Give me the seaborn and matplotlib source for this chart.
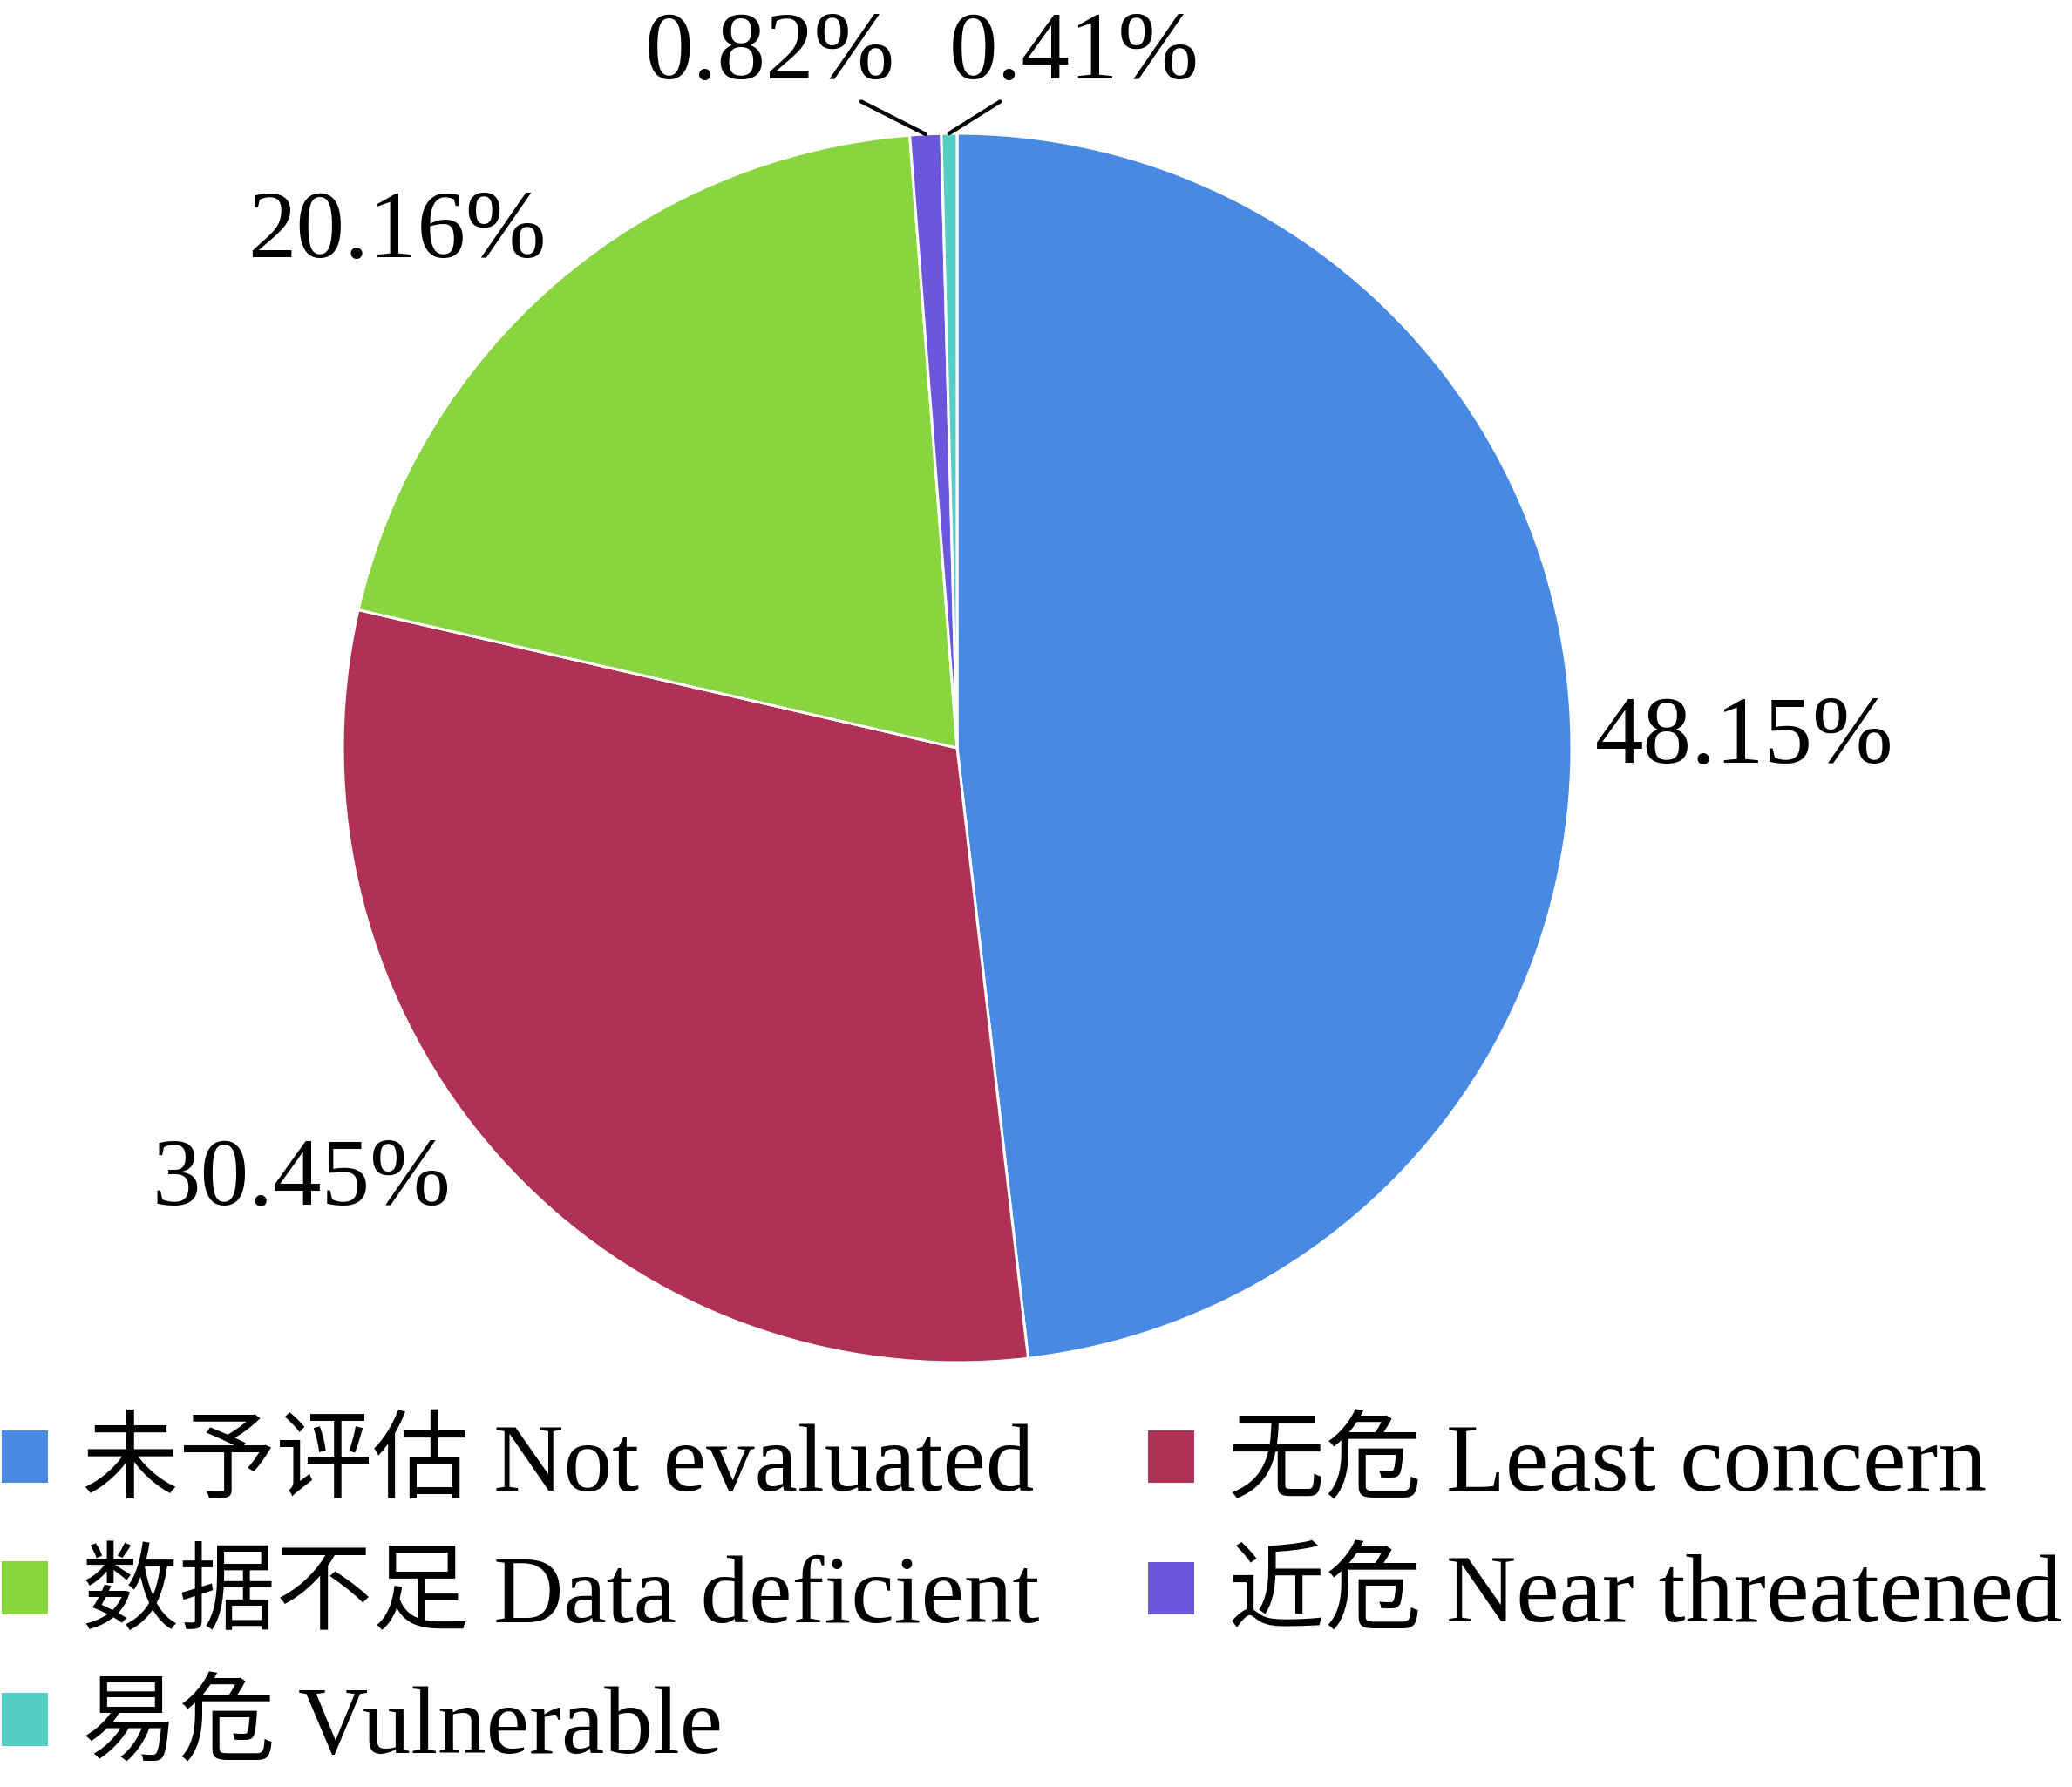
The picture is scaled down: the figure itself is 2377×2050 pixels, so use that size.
import numpy as np
import pandas as pd
import matplotlib
matplotlib.use('Agg')
import matplotlib.pyplot as plt
import seaborn as sns

# data
categories = ['未予评估 Not evaluated', '无危 Least concern', '数据不足 Data deficient',
              '近危 Near threatened', '易危 Vulnerable']
shares = [48.15, 30.45, 20.16, 0.82, 0.41]
pct_labels = ['48.15%', '30.45%', '20.16%', '0.82%', '0.41%']
colors = ['#4889e3', '#af3155', '#89d53f', '#6a57dc', '#55cec6']

# layout: label centres in pie units (radius = 1)
label_pos = [(1.281, 0.014), (-1.067, -0.706), (-0.912, 0.837), (-0.304, 1.127), (0.190, 1.127)]
leader = [False, False, False, True, True]


def main():
    sns.set_theme(style='white')
    plt.rcParams['font.family'] = ['Liberation Serif', 'Noto Sans CJK SC']
    plt.rcParams['text.color'] = 'black'
    palette = sns.color_palette(colors)

    df = pd.DataFrame({'category': categories, 'share': shares, 'label': pct_labels})

    fig = plt.figure(figsize=(23.77, 20.5), dpi=100)
    ax = fig.add_axes([393 / 2377, (2050 - 1563) / 2050, 1410 / 2377, 1410 / 2050])
    wedges, _ = ax.pie(df['share'], colors=palette, startangle=90, counterclock=False,
                       radius=1, wedgeprops=dict(edgecolor='white', linewidth=2.2))
    ax.set_xlim(-1, 1)
    ax.set_ylim(-1, 1)
    ax.set_aspect('equal')
    ax.axis('off')

    for w, lab, pos, lead in zip(wedges, df['label'], label_pos, leader):
        if lead:
            mid = np.deg2rad((w.theta1 + w.theta2) / 2)
            ax.annotate(lab, xy=(np.cos(mid), np.sin(mid)), xytext=pos,
                        ha='center', va='center', fontsize=80, color='black',
                        annotation_clip=False,
                        arrowprops=dict(arrowstyle='-', color='black', lw=3.2,
                                        shrinkA=0, shrinkB=0))
        else:
            ax.text(pos[0], pos[1], lab, ha='center', va='center', fontsize=80,
                    color='black', clip_on=False)

    order = [0, 2, 4, 1, 3]
    leg = fig.legend([wedges[i] for i in order], [df['category'][i] for i in order],
                     ncol=2, loc='upper left', bbox_to_anchor=(0.0, 1 - 1630 / 2050),
                     frameon=False, fontsize=80, borderpad=0, borderaxespad=0,
                     handlelength=0.5, handleheight=0.5, handletextpad=0.35,
                     columnspacing=1.1, labelspacing=0.43)
    for t in leg.get_texts():
        t.set_color('black')

    fig.savefig('out.png', dpi=100, facecolor='white')


if __name__ == '__main__':
    main()
